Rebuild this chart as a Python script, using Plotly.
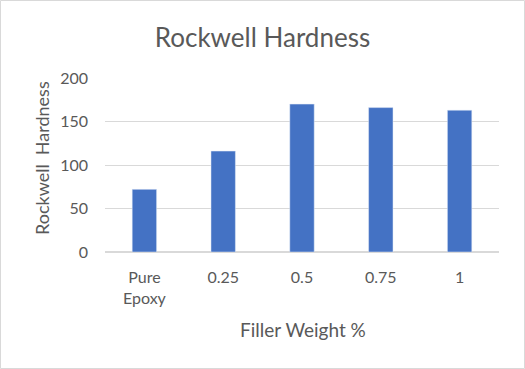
import plotly.graph_objects as go

categories = ["Pure<br>Epoxy", "0.25", "0.5", "0.75", "1"]
hardness = [72, 116, 170, 166, 163]
y_ticks = [0, 50, 100, 150, 200]

font_family = "Lato, Open Sans, sans-serif"
grey = "#595959"

L, R, T, B = 105, 26, 78, 117
PW, PH = 525 - L - R, 369 - T - B

fig = go.Figure(go.Bar(
    x=categories, y=hardness, marker_color="#4472C4", width=0.31,
))
fig.update_layout(
    width=525, height=369,
    margin=dict(l=L, r=R, t=T, b=B, autoexpand=False),
    paper_bgcolor="white", plot_bgcolor="white",
    showlegend=False,
    title=dict(text="Rockwell Hardness", x=0.5, xanchor="center", y=1 - 38/369, yanchor="middle",
               font=dict(family=font_family, size=26, color=grey)),
    font=dict(family=font_family, color=grey, size=16),
    shapes=[dict(type="rect", xref="paper", yref="paper", x0=-(L - 0.5)/PW, x1=1 + (R - 0.5)/PW,
                 y0=-(B - 0.5)/PH, y1=1 + (T - 0.5)/PH, line=dict(color="#D9D9D9", width=1))],
    annotations=[
        dict(text="Filler Weight %", xref="paper", yref="paper", x=(303 - L)/PW, y=-(329 - (T + PH))/PH,
             xanchor="center", yanchor="middle", showarrow=False, font=dict(size=19, color=grey)),
        dict(text="Rockwell  Hardness", xref="paper", yref="paper", x=-(L - 42)/PW, y=(T + PH - 158)/PH,
             xanchor="center", yanchor="middle", textangle=-90, showarrow=False, font=dict(size=18, color=grey)),
    ],
)
fig.update_xaxes(
    tickfont=dict(size=16, color=grey), showline=False, ticks="", ticklabelstandoff=14,
)
fig.update_yaxes(
    range=[0, 200], tickvals=y_ticks, showgrid=True, gridcolor="#D9D9D9", gridwidth=1,
    zeroline=True, zerolinecolor="#D9D9D9",
    tickfont=dict(size=16, color=grey), ticks="", showline=False, ticklabelstandoff=16,
)
fig.write_html("out.html", config={"displayModeBar": False},
               post_script="document.body.style.margin='0px';")
